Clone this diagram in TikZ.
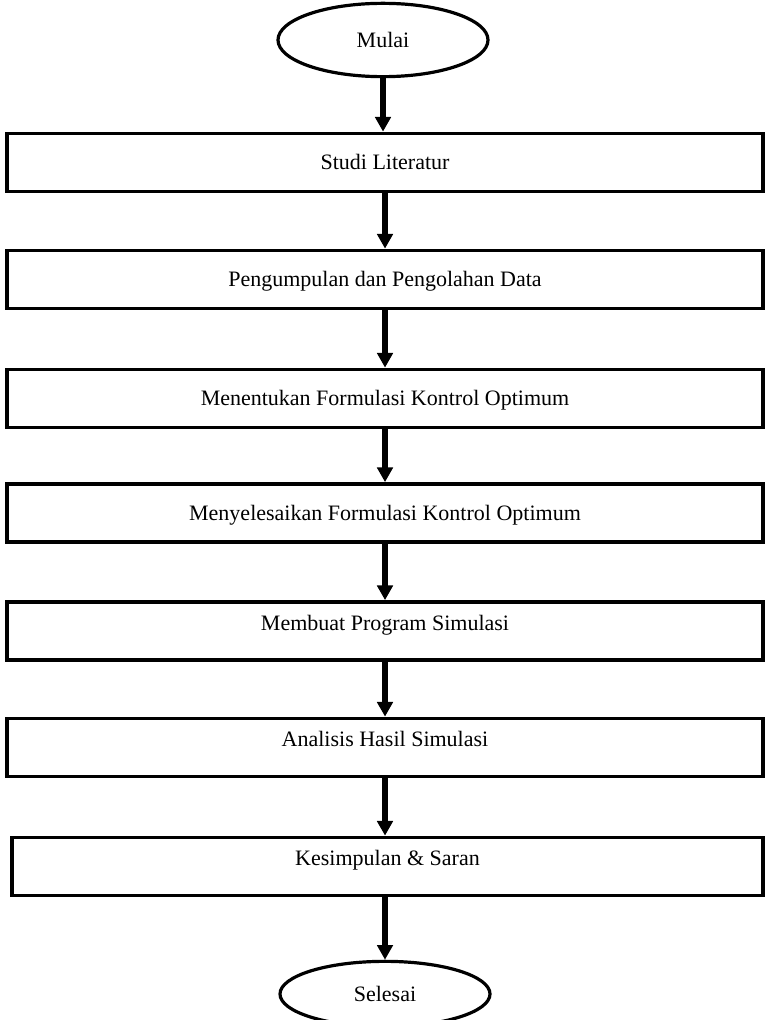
\documentclass[tikz,border=0pt]{standalone}
\usepackage{fontspec}
\setmainfont{Liberation Serif}
\usetikzlibrary{arrows.meta,shapes.geometric}
\tikzset{
  >=Triangle,
  font=\fontsize{16.5}{19}\selectfont,
  stepbox/.style={draw=black,line width=2.8pt,fill=white,minimum width=567pt,
                  minimum height=43.5pt,inner sep=0pt,text height=12pt,text depth=1pt},
  up/.style={text depth=13pt},
  term/.style={ellipse,draw=black,line width=2.4pt,fill=white,minimum width=157.5pt,
               minimum height=55pt,inner sep=0pt},
  arr/.style={-{Triangle[length=11pt,width=11.5pt]},line width=4pt,draw=black,shorten <=-1pt},
}
\begin{document}
\begin{tikzpicture}[x=0.75pt,y=-0.75pt]
  \useasboundingbox (0,0) rectangle (767,1020);
  \clip (0,0) rectangle (767,1020);
  % terminals
  \node[term] (mulai) at (383,40) {Mulai};
  \node[term,minimum height=49pt] (selesai) at (385,994) {Selesai};
  % process steps
  \node[stepbox] (studi) at (385,162.5) {Studi Literatur};
  \node[stepbox] (data) at (385,279.5) {Pengumpulan dan Pengolahan Data};
  \node[stepbox] (formulasi) at (385,398.5) {Menentukan Formulasi Kontrol Optimum};
  \node[stepbox] (solusi) at (385,513) {Menyelesaikan Formulasi Kontrol Optimum};
  \node[stepbox,up] (program) at (385,631) {Membuat Program Simulasi};
  \node[stepbox,up] (analisis) at (385,747.5) {Analisis Hasil Simulasi};
  \node[stepbox,up,minimum width=563pt] (simpulan) at (387.5,866.5) {Kesimpulan \& Saran};
  % arrows
  \draw[arr] (mulai.south) -- (mulai.south |- studi.north);
  \draw[arr] (studi) -- (data);
  \draw[arr] (data) -- (formulasi);
  \draw[arr] (formulasi) -- (solusi);
  \draw[arr] (solusi) -- (program);
  \draw[arr] (program) -- (analisis);
  \draw[arr] (analisis.south) -- (analisis.south |- simpulan.north);
  \draw[arr] (analisis.south |- simpulan.south) -- (selesai);
\end{tikzpicture}
\end{document}
